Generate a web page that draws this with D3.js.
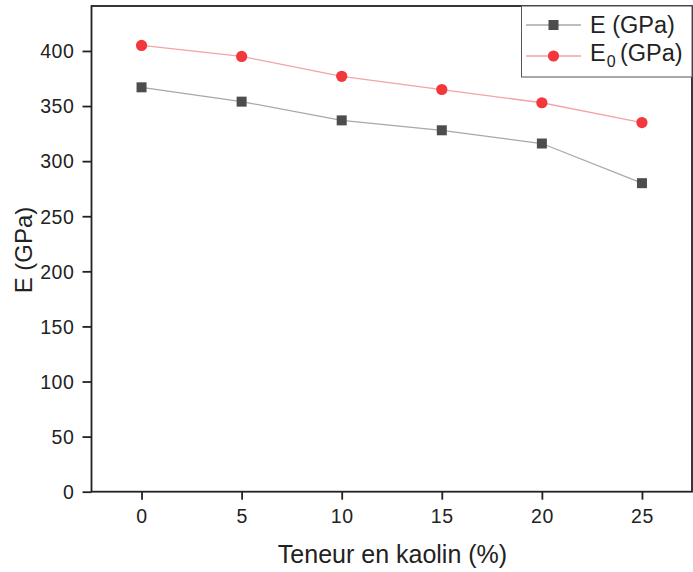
<!DOCTYPE html>
<html><head><meta charset="utf-8">
<script src="https://cdn.jsdelivr.net/npm/d3@7"></script>
<style>body{margin:0;background:#fff}svg{display:block;font-family:"Liberation Sans",Arial,sans-serif}</style>
</head><body>
<svg id="c" width="693" height="572"></svg>
<script>
const kaolin = [0, 5, 10, 15, 20, 25];
const E = [367, 354, 337, 328, 316, 280];
const E0 = [405, 395, 377, 365, 353, 335];
const yTicks = [0, 50, 100, 150, 200, 250, 300, 350, 400];
const xTicks = [0, 5, 10, 15, 20, 25];

const svg = d3.select("#c");
const L = 91.5, R = 692, T = 6, B = 491.7;
const x = d3.scaleLinear().domain([-2.5, 27.5]).range([L, R]);
const y = d3.scaleLinear().domain([0, 440.8]).range([B, T]);

// axes
const gx = svg.append("g").attr("transform", `translate(0,${B})`)
  .call(d3.axisBottom(x).tickValues(xTicks).tickSize(8).tickSizeOuter(0).tickPadding(6));
const gy = svg.append("g").attr("transform", `translate(${L},0)`)
  .call(d3.axisLeft(y).tickValues(yTicks).tickSize(9).tickSizeOuter(0).tickPadding(8));
[gx, gy].forEach(g => {
  g.select(".domain").remove();
  g.selectAll("line").attr("stroke", "#222").attr("stroke-width", 1.8);
  g.selectAll("text").attr("font-size", 19.5).attr("fill", "#222").attr("letter-spacing", 0.6);
});
gx.selectAll("text").attr("dy", null).attr("y", 31.5);
gy.selectAll("text").attr("dy", "0.35em").attr("x", -17);
// frame
svg.append("rect").attr("x", L).attr("y", T).attr("width", R - L).attr("height", B - T)
  .attr("fill", "none").attr("stroke", "#222").attr("stroke-width", 1.8);

// series
const series = [
  {name: "E", vals: E, line: "#a8a8a8", fill: "#4d4d4d", shape: "square"},
  {name: "E0", vals: E0, line: "#f4a3a6", fill: "#f2373d", shape: "circle"}
];
const lineGen = d3.line().x((d, i) => x(kaolin[i])).y(d => y(d));
series.forEach(s => {
  svg.append("path").attr("d", lineGen(s.vals)).attr("fill", "none")
    .attr("stroke", s.line).attr("stroke-width", 1.3);
  const g = svg.append("g");
  s.vals.forEach((v, i) => {
    if (s.shape === "square") {
      g.append("rect").attr("x", x(kaolin[i]) - 5).attr("y", y(v) - 5)
        .attr("width", 10).attr("height", 10).attr("fill", s.fill);
    } else {
      g.append("circle").attr("cx", x(kaolin[i])).attr("cy", y(v)).attr("r", 5.6).attr("fill", s.fill);
    }
  });
});

// legend
const lg = svg.append("g");
lg.append("rect").attr("x", 521.5).attr("y", T).attr("width", R - 521.5).attr("height", 71)
  .attr("fill", "#fff").attr("stroke", "#555").attr("stroke-width", 1);
[[series[0], 25], [series[1], 56]].forEach(([s, yy]) => {
  lg.append("line").attr("x1", 526).attr("x2", 581).attr("y1", yy).attr("y2", yy)
    .attr("stroke", s.line).attr("stroke-width", 1.3);
  if (s.shape === "square") lg.append("rect").attr("x", 548.5).attr("y", yy - 5).attr("width", 10).attr("height", 10).attr("fill", s.fill);
  else lg.append("circle").attr("cx", 553.5).attr("cy", yy).attr("r", 5.6).attr("fill", s.fill);
});
lg.append("text").attr("x", 590).attr("y", 32.5).attr("font-size", 23.5).attr("fill", "#222").text("E (GPa)");
const t2 = lg.append("text").attr("x", 590).attr("y", 61).attr("font-size", 23.5).attr("fill", "#222");
t2.append("tspan").text("E");
t2.append("tspan").attr("font-size", 16).attr("dy", 6).attr("dx", 1).text("0");
t2.append("tspan").attr("dy", -6).attr("x", 620).text("(GPa)");

// axis titles
svg.append("text").attr("x", 392.5).attr("y", 563).attr("text-anchor", "middle")
  .attr("font-size", 25).attr("fill", "#222").text("Teneur en kaolin (%)");
svg.append("text").attr("transform", `translate(32,250) rotate(-90)`).attr("text-anchor", "middle")
  .attr("font-size", 24).attr("fill", "#222").text("E (GPa)");
</script>
</body></html>
